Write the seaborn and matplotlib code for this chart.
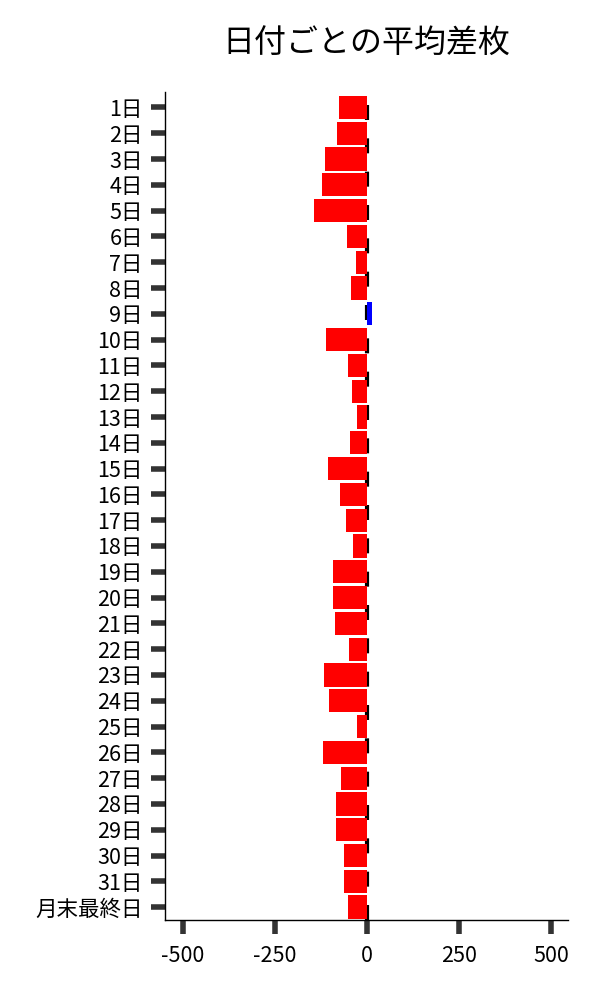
import pandas as pd
import seaborn as sns
import matplotlib.pyplot as plt

days = [f"{i}日" for i in range(1, 32)] + ["月末最終日"]
avg_diff = [
    -75, -81, -113, -121, -143, -53, -29, -43, 15, -110,
    -51, -40, -26, -45, -105, -73, -57, -37, -91, -91,
    -86, -48, -116, -102, -26, -119, -70, -84, -84, -62,
    -62, -51,
]

df = pd.DataFrame({"day": days, "diff": avg_diff})
colors = {d: ("#0000ff" if v > 0 else "#ff0000") for d, v in zip(days, avg_diff)}

sns.set_style("ticks")
plt.rcParams["font.family"] = ["Noto Sans CJK JP", "DejaVu Sans"]
plt.rcParams["axes.unicode_minus"] = False

fig, ax = plt.subplots(figsize=(6, 10), dpi=100)
fig.subplots_adjust(left=0.275, right=0.947, top=0.908, bottom=0.08)

sns.barplot(data=df, x="diff", y="day", hue="day", palette=colors,
            legend=False, width=0.9, saturation=1, linewidth=0, ax=ax)
ax.axvline(0, color="black", linewidth=3, linestyle=(0, (3.6, 4.4)), zorder=0.5)

ax.set_xlim(-548, 547)
ax.set_ylim(len(days) - 0.5, -0.6)
ax.set_xticks([-500, -250, 0, 250, 500])
ax.set_title("日付ごとの平均差枚", fontsize=23, pad=28, color="black")
ax.set_xlabel("")
ax.set_ylabel("")
ax.tick_params(axis="both", length=10, width=4, color="#333333",
               labelsize=15.5, labelcolor="black")
ax.tick_params(axis="y", pad=6)
ax.tick_params(axis="x", pad=8)
for s in ["left", "bottom"]:
    ax.spines[s].set_color("black")
    ax.spines[s].set_linewidth(1)
sns.despine(ax=ax)

fig.savefig("out.png", dpi=100)
